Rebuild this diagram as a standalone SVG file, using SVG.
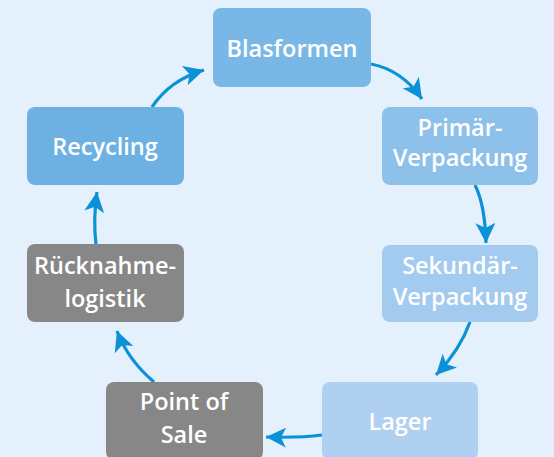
<svg xmlns="http://www.w3.org/2000/svg" width="554" height="457" viewBox="0 0 554 457">
<defs>
<style>
.n{stroke:none}
.t{font-family:"Open Sans","Noto Sans","Liberation Sans",sans-serif;font-weight:600;font-size:23.5px;fill:#ffffff;text-anchor:middle}
.c{fill:none;stroke:#0a91d6;stroke-width:3.2}
</style>
<marker id="ah" markerWidth="22" markerHeight="20" refX="20" refY="10" orient="auto" markerUnits="userSpaceOnUse">
<path d="M0,0 L20,10 L0,20 L5,10 Z" fill="#0a91d6"/>
</marker>
</defs>
<rect width="554" height="457" fill="#e4f0fb"/>
<g id="connectors">
<path class="c" d="M152,107 Q170,80 204,70" marker-end="url(#ah)"/>
<path class="c" d="M371,64 Q402,70 422,99" marker-end="url(#ah)"/>
<path class="c" d="M475,185 Q485,205 486,243" marker-end="url(#ah)"/>
<path class="c" d="M470,322 Q460,350 436,375" marker-end="url(#ah)"/>
<path class="c" d="M322,435 Q300,438 266,437" marker-end="url(#ah)"/>
<path class="c" d="M154,382 Q128,360 117,331" marker-end="url(#ah)"/>
<path class="c" d="M96,244 Q93,220 97,192" marker-end="url(#ah)"/>
</g>
<g id="blasformen">
<rect class="n" x="213" y="8" width="158" height="79" rx="8" fill="#79b8e6"/>
<text class="t" x="292" y="57">Blasformen</text>
</g>
<g id="primaer">
<rect class="n" x="382" y="107" width="156" height="78" rx="8" fill="#8ec1ea"/>
<text class="t" x="460" y="136">Primär-</text>
<text class="t" x="460" y="166">Verpackung</text>
</g>
<g id="sekundaer">
<rect class="n" x="382" y="245" width="156" height="77" rx="8" fill="#a2cbef"/>
<text class="t" x="460" y="274">Sekundär-</text>
<text class="t" x="460" y="305">Verpackung</text>
</g>
<g id="lager">
<rect class="n" x="322" y="382" width="156" height="78" rx="8" fill="#afd0f0"/>
<text class="t" x="400" y="430">Lager</text>
</g>
<g id="pos">
<rect class="n" x="106" y="382" width="157" height="78" rx="8" fill="#878787"/>
<text class="t" x="184" y="410">Point of</text>
<text class="t" x="184" y="443">Sale</text>
</g>
<g id="ruecknahme">
<rect class="n" x="27" y="244" width="157" height="78" rx="8" fill="#878787"/>
<text class="t" x="105" y="274">Rücknahme-</text>
<text class="t" x="105" y="307">logistik</text>
</g>
<g id="recycling">
<rect class="n" x="27" y="107" width="157" height="78" rx="8" fill="#6cb1e2"/>
<text class="t" x="105" y="155">Recycling</text>
</g>
</svg>
